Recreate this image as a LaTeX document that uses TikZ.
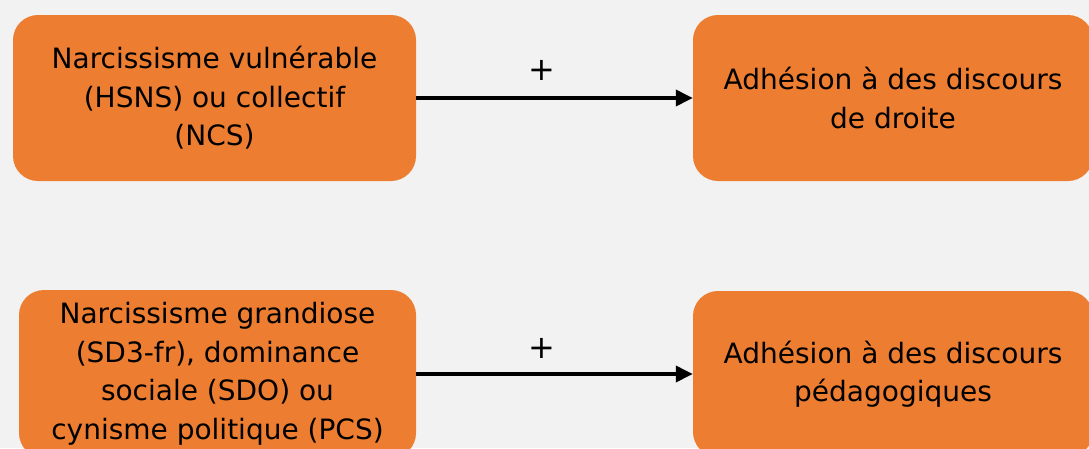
\documentclass[tikz,border=0pt]{standalone}
\usepackage{fontspec}
\setmainfont{DejaVu Sans}
\usetikzlibrary{arrows.meta}
\definecolor{boxorange}{HTML}{ED7D31}
\definecolor{bggray}{HTML}{F2F2F2}
\tikzset{box/.style={fill=boxorange,rounded corners=25pt,inner sep=0pt,align=center,
  font=\fontsize{28}{38.5}\selectfont}}
\tikzstyle{b} = [draw,line width=3.5pt,-{Triangle[length=17pt,width=16pt]}]

\begin{document}
\begin{tikzpicture}[x=1pt,y=-1pt]
\useasboundingbox (0,0) rectangle (1089,448);
\fill [bggray] (0,0) rectangle (1089,448);
\begin{scope}
\clip (0,0) rectangle (1089,448);
\node (nv) at (214.5,98) [box,minimum width=403pt,minimum height=166pt] {Narcissisme vulnérable\\(HSNS) ou collectif\\(NCS)};
\node (ad) at (893,98) [box,minimum width=400pt,minimum height=166pt] {Adhésion à des discours\\de droite};
\node (ng) at (217.5,374) [box,minimum width=397pt,minimum height=168pt] {Narcissisme grandiose\\(SD3-fr), dominance\\sociale (SDO) ou\\cynisme politique (PCS)};
\node (ap) at (893,374) [box,minimum width=400pt,minimum height=166pt] {Adhésion à des discours\\pédagogiques};
\end{scope}
\draw [b] (nv.east) -- (ad.west) node [pos=0.455,above=12pt,font=\fontsize{32}{32}\selectfont] {+};
\draw [b] (ng.east) -- (ap.west) node [pos=0.455,above=10pt,font=\fontsize{32}{32}\selectfont] {+};
\end{tikzpicture}
\end{document}
